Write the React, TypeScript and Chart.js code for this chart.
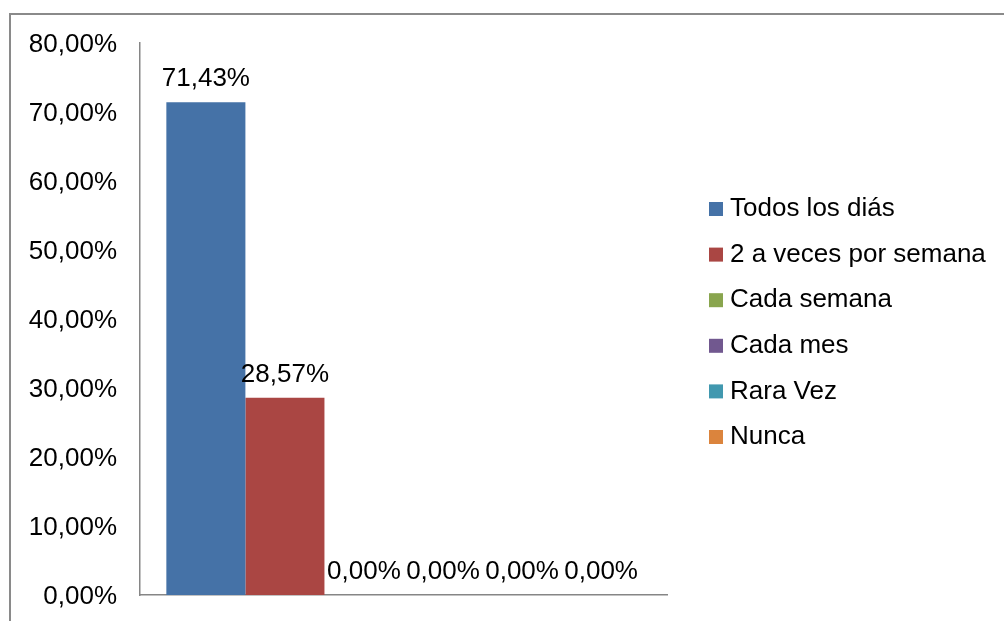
import React, { useEffect, useRef } from "react";
import { Chart, registerables } from "chart.js";

Chart.register(...registerables);

const categories = [""];
const seriesNames = [
  "Todos los diás",
  "2 a veces por semana",
  "Cada semana",
  "Cada mes",
  "Rara Vez",
  "Nunca",
];
const seriesValues = [71.43, 28.57, 0, 0, 0, 0];
const seriesColors = ["#4572A7", "#AA4643", "#89A54E", "#71588F", "#4198AF", "#DB843D"];
const yTicks = [0, 10, 20, 30, 40, 50, 60, 70, 80];

const fmt = (v: number) => v.toFixed(2).replace(".", ",") + "%";
const FONT = "'Liberation Sans', Arial, sans-serif";

const valueLabels = {
  id: "valueLabels",
  afterDatasetsDraw(chart: any) {
    const ctx = chart.ctx;
    ctx.save();
    ctx.font = `26px ${FONT}`;
    ctx.fillStyle = "#000";
    ctx.textAlign = "center";
    ctx.textBaseline = "middle";
    chart.data.datasets.forEach((ds: any, i: number) => {
      const meta = chart.getDatasetMeta(i);
      meta.data.forEach((bar: any, j: number) => {
        const v = ds.data[j];
        ctx.fillText(fmt(v), bar.x, bar.y - 23);
      });
    });
    ctx.restore();
  },
};

const sideLegend = {
  id: "sideLegend",
  afterDraw(chart: any) {
    const ctx = chart.ctx;
    ctx.save();
    ctx.font = `26px ${FONT}`;
    ctx.textAlign = "left";
    ctx.textBaseline = "middle";
    const x0 = chart.chartArea.right + 42;
    const cy = (chart.chartArea.top + chart.chartArea.bottom) / 2 + 4;
    const step = 45.6;
    const y0 = cy - (step * (seriesNames.length - 1)) / 2;
    seriesNames.forEach((name, i) => {
      const y = y0 + i * step;
      ctx.fillStyle = seriesColors[i];
      ctx.fillRect(x0, y - 7, 14, 14);
      ctx.fillStyle = "#000";
      ctx.fillText(name, x0 + 21, y);
    });
    ctx.restore();
  },
};

export default function App() {
  const ref = useRef<HTMLCanvasElement | null>(null);
  useEffect(() => {
    if (!ref.current) return;
    const chart = new Chart(ref.current, {
      type: "bar",
      data: {
        labels: categories,
        datasets: seriesNames.map((name, i) => ({
          label: name,
          data: [seriesValues[i]],
          backgroundColor: seriesColors[i],
          borderWidth: 0,
          categoryPercentage: 0.9,
          barPercentage: 1,
        })),
      },
      options: {
        responsive: false,
        animation: false,
        layout: { padding: { left: 28, top: 43, bottom: 26, right: 337 } },
        plugins: {
          tooltip: { enabled: false },
          legend: { display: false },
        },
        scales: {
          x: {
            grid: { display: false, drawTicks: false },
            ticks: { display: false },
            border: { display: true, color: "#868686", width: 1.5 },
            afterFit: (scale: any) => {
              scale.height = 0;
            },
          },
          y: {
            min: 0,
            max: 80,
            afterBuildTicks: (scale: any) => {
              scale.ticks = yTicks.map((v) => ({ value: v }));
            },
            afterFit: (scale: any) => {
              scale.width = 112;
              scale.paddingTop = 0;
              scale.paddingBottom = 0;
            },
            grid: { display: false, drawTicks: false },
            border: { display: true, color: "#868686", width: 1.5 },
            ticks: {
              padding: 23,
              labelOffset: 2,
              color: "#000",
              font: { family: FONT, size: 26 },
              callback: (v: any) => fmt(Number(v)),
            },
          },
        },
      },
      plugins: [valueLabels, sideLegend],
    });
    return () => chart.destroy();
  }, []);

  return (
    <div style={{ position: "fixed", left: 0, top: 0, width: 1004, height: 621, background: "#fff", overflow: "hidden" }}>
      <div
        style={{
          position: "absolute",
          left: 9,
          top: 13,
          width: 1100,
          height: 700,
          border: "2px solid #8a8a8a",
          boxSizing: "border-box",
        }}
      />
      <canvas ref={ref} width={1004} height={621} style={{ position: "absolute", left: 0, top: 0 }} />
    </div>
  );
}
